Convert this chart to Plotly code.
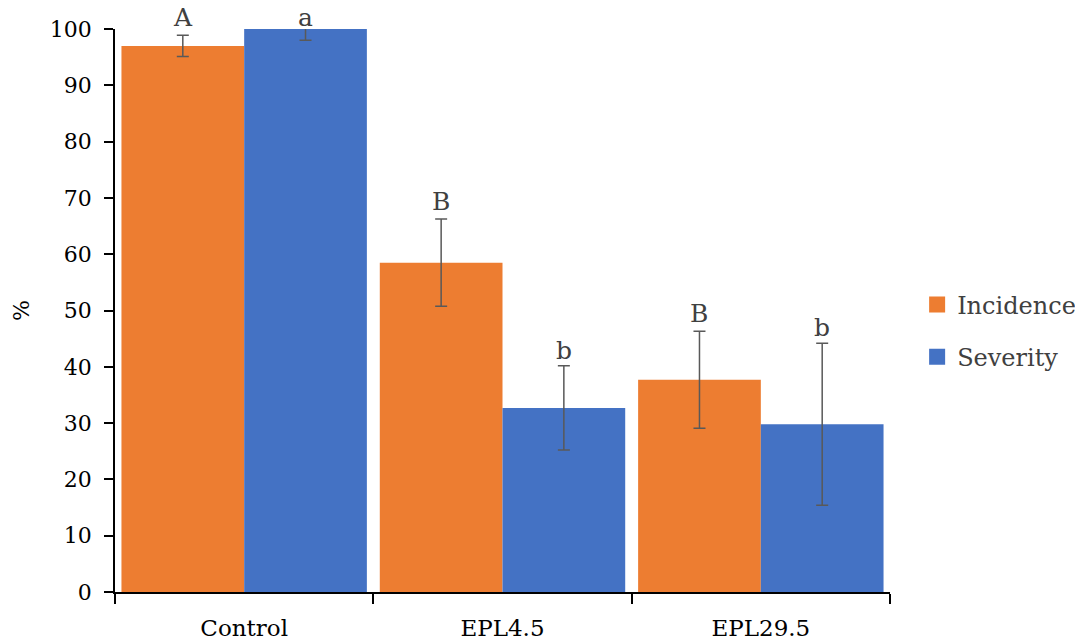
import plotly.graph_objects as go

categories = ["Control", "EPL4.5", "EPL29.5"]
incidence = [97.0, 58.5, 37.7]
incidence_err = [1.9, 7.75, 8.6]
severity = [100.0, 32.7, 29.8]
severity_err = [2.0, 7.5, 14.4]
incidence_letters = ["A", "B", "B"]
severity_letters = ["a", "b", "b"]
y_ticks = list(range(0, 101, 10))

FONT = "DejaVu Serif"
ORANGE = "#ED7D31"
BLUE = "#4472C4"
ERR = "#595959"

fig = go.Figure()
fig.add_trace(go.Bar(
    name="Incidence", x=categories, y=incidence, marker_color=ORANGE,
    marker_line_width=0, showlegend=False,
    error_y=dict(type="data", array=incidence_err, color=ERR, thickness=1.5, width=6),
))
fig.add_trace(go.Bar(
    name="Severity", x=categories, y=severity, marker_color=BLUE,
    marker_line_width=0, showlegend=False,
    error_y=dict(type="data", array=severity_err, color=ERR, thickness=1.5, width=6),
))
# legend entries with larger square swatches
for name, col, grp in [("Incidence", ORANGE, "inc"), ("Severity", BLUE, "sev")]:
    fig.add_trace(go.Scatter(x=[None], y=[None], mode="markers", name=name, legendgroup=grp,
                             marker=dict(symbol="square", size=17, color=col), showlegend=True))

bargap = 0.05
half = (1 - bargap) / 4
for i, cat in enumerate(categories):
    inc_top = incidence[i] + incidence_err[i]
    sev_top = severity[i] + severity_err[i]
    fig.add_annotation(x=i - half, y=min(inc_top, 100), text=incidence_letters[i],
                       showarrow=False, yanchor="bottom", yshift=1,
                       font=dict(family=FONT, size=25, color="#404040"))
    fig.add_annotation(x=i + half, y=min(sev_top, 100), text=severity_letters[i],
                       showarrow=False, yanchor="bottom", yshift=(-5 if sev_top > 100 else -1),
                       font=dict(family=FONT, size=25, color="#404040"))

fig.update_layout(
    width=1075, height=642,
    margin=dict(l=115, r=185, t=29, b=50, autoexpand=False),
    paper_bgcolor="white", plot_bgcolor="white",
    barmode="group", bargap=bargap, bargroupgap=0,
    font=dict(family=FONT, size=22, color="#000000"),
    showlegend=True,
    legend=dict(x=1.035, xanchor="left", y=0.55, yanchor="top",
                traceorder="grouped", tracegroupgap=18,
                font=dict(family=FONT, size=24, color="#404040"),
                itemwidth=30, bgcolor="rgba(0,0,0,0)"),
)
fig.update_xaxes(
    type="category", range=[-0.5, 2.5], showline=True, linecolor="black", linewidth=1.5,
    ticks="outside", tickson="boundaries", ticklen=10, tickcolor="black", tickwidth=1.5,
    showgrid=False, zeroline=False, ticklabelstandoff=15,
    tickfont=dict(family=FONT, size=23, color="#000000"),
)
fig.update_yaxes(
    range=[0, 100], tickvals=y_ticks, showline=True, linecolor="black", linewidth=1.5,
    ticks="outside", ticklen=9, tickcolor="black", tickwidth=1.5,
    showgrid=False, zeroline=False, ticklabelstandoff=8,
    tickfont=dict(family=FONT, size=22, color="#000000"),
    title=dict(text="%", standoff=14, font=dict(family=FONT, size=22, color="#000000")),
)

fig.write_html("out.html", config={"displayModeBar": False},
               post_script="document.body.style.margin='0';document.body.style.overflow='hidden';")
